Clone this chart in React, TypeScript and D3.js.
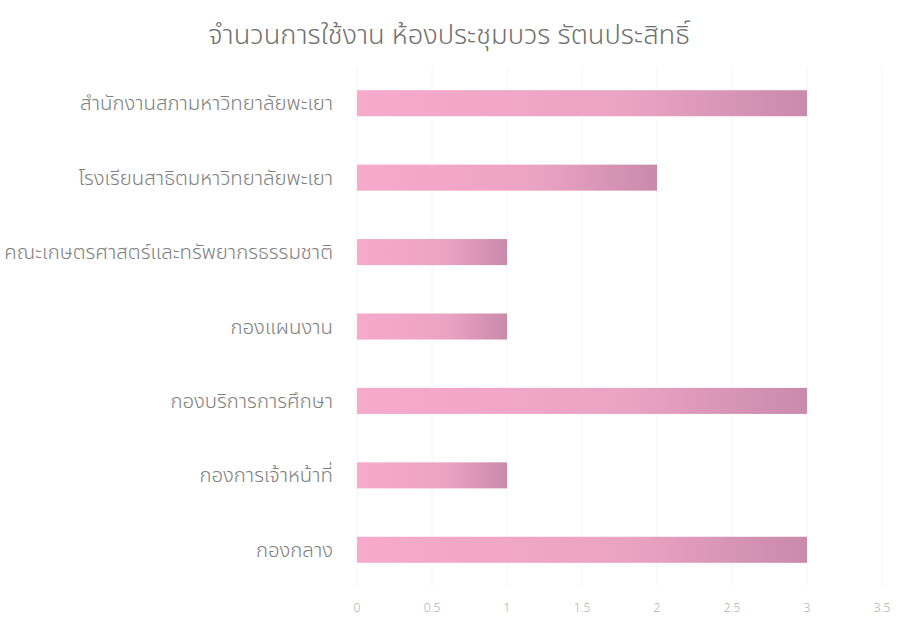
import React from "react";
import * as d3 from "d3";

const title = "จำนวนการใช้งาน ห้องประชุมบวร รัตนประสิทธิ์";
const categories = [
  "สำนักงานสภามหาวิทยาลัยพะเยา",
  "โรงเรียนสาธิตมหาวิทยาลัยพะเยา",
  "คณะเกษตรศาสตร์และทรัพยากรธรรมชาติ",
  "กองแผนงาน",
  "กองบริการการศึกษา",
  "กองการเจ้าหน้าที่",
  "กองกลาง",
];
const values = [3, 2, 1, 1, 3, 1, 3];
const xTicks = [0, 0.5, 1, 1.5, 2, 2.5, 3, 3.5];

const W = 900;
const H = 627;
const margin = { left: 357, right: 18, top: 66, bottom: 40 };

export default function App() {
  const x = d3.scaleLinear().domain([0, 3.5]).range([margin.left, margin.left + 525]);
  const y = d3
    .scaleBand<string>()
    .domain(categories)
    .range([margin.top, 587])
    .paddingInner(0.65)
    .paddingOuter(0.325);
  const font = "'Noto Sans Thai', 'Noto Sans', Tahoma, sans-serif";
  return (
    <svg
      width={W}
      height={H}
      style={{ position: "absolute", left: 0, top: 0, background: "#fff" }}
      fontFamily={font}
    >
      <defs>
        <linearGradient id="barGrad" x1="0" x2="1" y1="0" y2="0">
          <stop offset="0%" stopColor="#f7aacb" />
          <stop offset="60%" stopColor="#eba3c3" />
          <stop offset="100%" stopColor="#c98aac" />
        </linearGradient>
      </defs>
      <rect x={0} y={0} width={W} height={H} fill="#ffffff" />
      {xTicks.map((t) => (
        <line
          key={"g" + t}
          x1={x(t)}
          x2={x(t)}
          y1={margin.top}
          y2={587}
          stroke="#f4f4f4"
          strokeWidth={1}
        />
      ))}
      <text
        x={449}
        y={44}
        textAnchor="middle"
        fontSize={27.3}
        fontWeight={300}
        fill="#707070"
      >
        {title}
      </text>
      {categories.map((c, i) => (
        <g key={c}>
          <rect
            x={x(0)}
            y={y(c)!}
            width={x(values[i]) - x(0)}
            height={y.bandwidth()}
            fill="url(#barGrad)"
          />
          <text
            x={333}
            y={y(c)! + y.bandwidth() / 2}
            dy="0.35em"
            textAnchor="end"
            fontSize={20.4}
            fontWeight={300}
            fill="#808080"
          >
            {c}
          </text>
        </g>
      ))}
      {xTicks.map((t) => (
        <text
          key={"t" + t}
          x={x(t)}
          y={612}
          textAnchor="middle"
          fontSize={12}
          fontWeight={300}
          fill="#b0b0b0"
        >
          {String(t)}
        </text>
      ))}
    </svg>
  );
}
